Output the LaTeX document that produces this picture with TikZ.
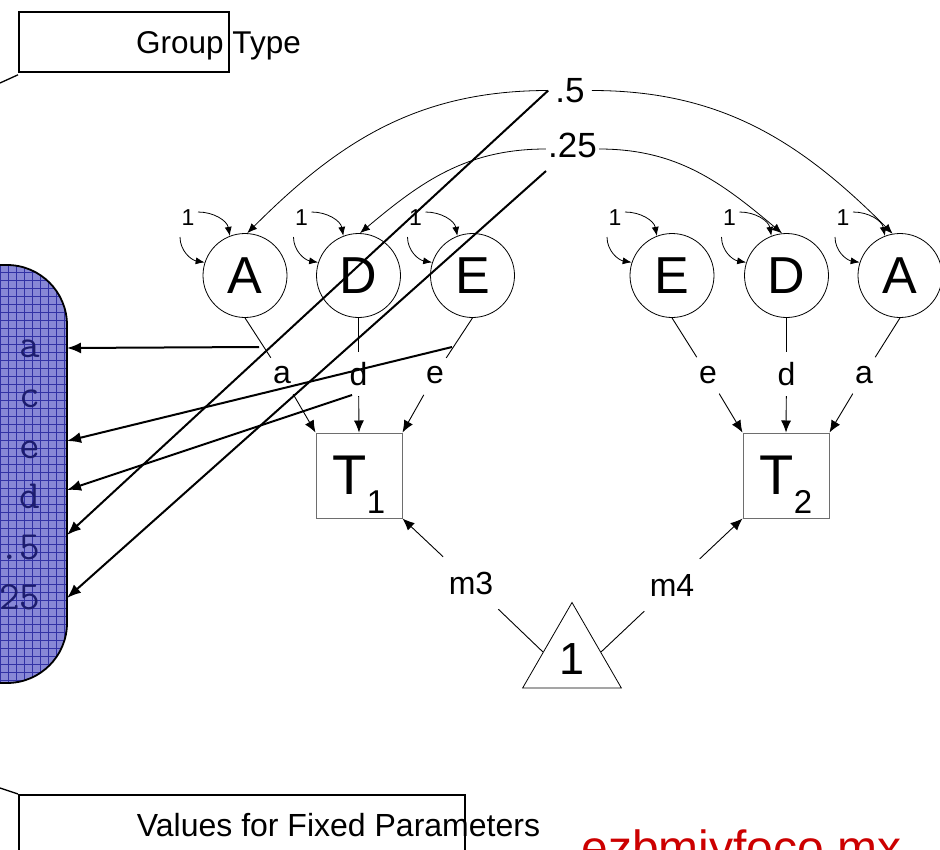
\documentclass[tikz,border=0pt]{standalone}
\usepackage{fontspec}
\setmainfont{Liberation Sans}
\usetikzlibrary{arrows.meta,calc,shapes.geometric}
\newcommand\fsz[1]{\fontsize{#1}{#1}\selectfont}
\definecolor{panelfill}{RGB}{136,136,214}
\definecolor{panelgrid}{RGB}{50,50,165}
\definecolor{paneltext}{RGB}{28,28,110}
\definecolor{redtext}{RGB}{204,0,0}
\definecolor{boxgray}{RGB}{110,110,110}
\begin{document}
\begin{tikzpicture}[x=1pt,y=1pt,
  latent/.style={circle,draw,line width=0.8pt,minimum size=84pt,inner sep=0pt,font=\fsz{52}},
  manifest/.style={rectangle,draw=boxgray,line width=1pt,minimum width=86pt,minimum height=85pt,inner sep=0pt,font=\fsz{56}},
  pathlbl/.style={inner sep=0pt,minimum width=22pt,minimum height=44pt,font=\fsz{32}},
  meanlbl/.style={inner sep=0pt,minimum width=56pt,minimum height=52pt,font=\fsz{32}},
  corrlbl/.style={inner ysep=1pt,font=\fsz{35}},
  varlbl/.style={inner sep=1pt,font=\fsz{23}},
  plainline/.style={line width=0.9pt},
  pathtip/.style={-{Latex[length=12pt,width=10pt]},line width=0.9pt},
  vartip/.style={-{Latex[length=9pt,width=7pt]},line width=0.8pt},
  arctip/.style={-{Latex[length=10pt,width=8pt]},line width=0.8pt},
  bigtip/.style={-{Latex[length=14pt,width=11pt]},line width=2pt},
  paneltxt/.style={anchor=base east,font=\ttfamily\fsz{40},text=paneltext},
  framebox/.style={draw,line width=1.8pt,inner sep=0pt,anchor=north west},
]
\useasboundingbox (0,0) rectangle (940,-849);
\clip (0,0) rectangle (940,-849);

% ---- left panel ----
\begin{scope}
  \clip[rounded corners=60pt] (-120,-265) rectangle (67,-683);
  \fill[panelfill] (-120,-265) rectangle (67,-683);
  \draw[panelgrid,line width=0.6pt,step=8] (-120,-690) grid (70,-260);
\end{scope}
\draw[line width=1.8pt,rounded corners=60pt] (-120,-265) rectangle (67,-683);
\node[paneltxt] (pa)  at (44,-357)   {a};
\node[paneltxt] (pc)  at (44,-407.5) {c};
\node[paneltxt] (pe)  at (44,-458)   {e};
\node[paneltxt] (pd)  at (44,-508.5) {d};
\node[paneltxt] (p5)  at (44,-559)   {.5};
\node[paneltxt] (p25) at (44,-609.5) {.25};

% ---- group type / values boxes ----
\node[framebox,minimum width=210pt,minimum height=60pt] (gtbox) at (18,-11) {};
\node[anchor=base,font=\fsz{31.5}] (gt) at (218.5,-53) {Group Type};
\coordinate (gtend) at (0,-83);
\draw[line width=1.3pt] ($(gtbox.south west)+(0,-2)$) -- (gtend);

\node[framebox,minimum width=446pt,minimum height=100pt] (vbox) at (18,-794) {};
\node[anchor=base,font=\fsz{32}] (vt) at (338.5,-836) {Values for Fixed Parameters};
\coordinate (vend) at (0,-788);
\draw[line width=1.3pt] (vbox.north west) -- (vend);

\node[anchor=base,font=\fsz{48},text=redtext] (wm) at (741.5,-864) {ezbmiyfoco.mx};

% ---- latent variables ----
\node[latent] (A1) at (245,-275.5) {A};
\node[latent] (D1) at (358.5,-275.5) {D};
\node[latent] (E1) at (472.5,-275.5) {E};
\node[latent] (E2) at (672,-275.5) {E};
\node[latent] (D2) at (786.5,-275.5) {D};
\node[latent] (A2) at (900,-275.5) {A};

% ---- manifest variables ----
\node[manifest] (T1) at (359,-475.5) {T\raisebox{-19pt}[0pt][0pt]{\fsz{33}1}};
\node[manifest] (T2) at (786,-475.5) {T\raisebox{-19pt}[0pt][0pt]{\fsz{33}2}};

% ---- mean triangle ----
\node[regular polygon,regular polygon sides=3,draw,line width=0.8pt,minimum size=114pt,inner sep=0pt,font=\fsz{45}] (tri) at (572,-659.5) {1};

% ---- variance loops ----
\foreach \n in {A1,D1,E1,E2,D2,A2}{
  \node[varlbl] (one\n) at ($(\n)+(-57,57.5)$) {1};
  \draw[vartip] ($(\n)+(-47,63.5)$) to[out=0,in=100] (\n.111);
  \draw[vartip] ($(\n)+(-65,38.5)$) to[out=-90,in=170] (\n.162);
}

% ---- correlations ----
\node[corrlbl,inner xsep=7pt] (c5) at (570,-90.5) {.5};
\node[corrlbl,inner xsep=2pt,text depth=7pt] (c25) at (572.5,-149) {.25};
\draw[arctip] (c5.west) to[out=180,in=45] (A1.87);
\draw[arctip] (c25.west) to[out=180,in=40] (D1.88);
\draw[arctip] (c5.east) to[out=0,in=135] (A2.100);
\draw[arctip] (c25.east) to[out=0,in=140] (D2.96);

% ---- paths ----
\node[pathlbl] (la1) at (282,-375) {a};
\node[pathlbl] (ld1) at (358.5,-374) {d};
\node[pathlbl] (le1) at (435,-375) {e};
\node[pathlbl] (le2) at (708,-375) {e};
\node[pathlbl] (ld2) at (786.5,-374) {d};
\node[pathlbl] (la2) at (864,-375) {a};
\draw[plainline] (A1.south) -- (la1);  \draw[pathtip] (la1) -- (T1.north west);
\draw[plainline] (D1.south) -- (ld1);  \draw[pathtip] (ld1) -- (T1.north);
\draw[plainline] (E1.south) -- (le1);  \draw[pathtip] (le1) -- (T1.north east);
\draw[plainline] (E2.south) -- (le2);  \draw[pathtip] (le2) -- (T2.north west);
\draw[plainline] (D2.south) -- (ld2);  \draw[pathtip] (ld2) -- (T2.north);
\draw[plainline] (A2.south) -- (la2);  \draw[pathtip] (la2) -- (T2.north east);

% ---- means ----
\node[meanlbl] (m3) at (471,-583) {m3};
\node[meanlbl] (m4) at (672,-585) {m4};
\coordinate (tl) at ($(tri.corner 1)!0.58!(tri.corner 2)$);
\coordinate (tr) at ($(tri.corner 1)!0.58!(tri.corner 3)$);
\draw[plainline] (tl) -- (m3);  \draw[pathtip] (m3) -- (T1.south east);
\draw[plainline] (tr) -- (m4);  \draw[pathtip] (m4) -- (T2.south west);

% ---- arrows into the panel ----
\coordinate (sa) at (259,-347);
\coordinate (se) at (452,-347);
\coordinate (sd) at (352,-395);
\coordinate (s25) at (546,-171);
\coordinate (ta) at (67,-348);
\coordinate (te) at (67,-441);
\coordinate (td) at (67,-490);
\coordinate (t5) at (67,-535);
\coordinate (t25) at (67,-598);
\draw[bigtip] (sa) -- (ta);
\draw[bigtip] (se) -- (te);
\draw[bigtip] (sd) -- (td);
\draw[bigtip] (c5.west) -- (t5);
\draw[bigtip] (s25) -- (t25);
\end{tikzpicture}
\end{document}
